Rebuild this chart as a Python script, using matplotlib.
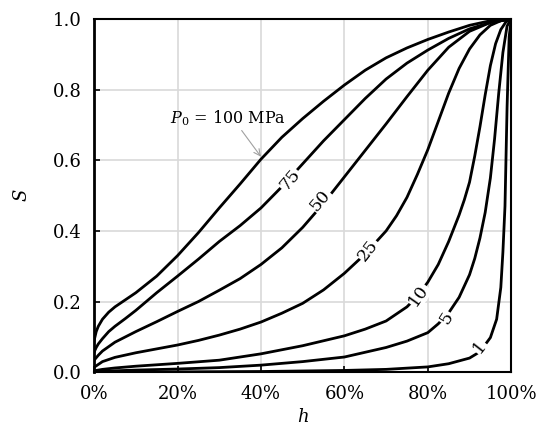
import matplotlib
matplotlib.use("Agg")
import matplotlib.pyplot as plt
import matplotlib.ticker as ticker

plt.rcParams["font.family"] = ["DejaVu Serif"]
plt.rcParams["mathtext.fontset"] = "dejavuserif"

# values (h as fraction, S)
h_100 = [0, 0.005, 0.01, 0.02, 0.035, 0.05, 0.075, 0.1, 0.15, 0.2, 0.25, 0.3, 0.35, 0.4, 0.45,
         0.5, 0.55, 0.6, 0.65, 0.7, 0.75, 0.8, 0.85, 0.9, 0.95, 1.0]
s_100 = [0.09, 0.115, 0.13, 0.15, 0.17, 0.185, 0.205, 0.225, 0.272, 0.33, 0.395, 0.465, 0.533, 0.603, 0.665,
         0.718, 0.767, 0.813, 0.855, 0.89, 0.918, 0.942, 0.963, 0.982, 0.995, 1.0]

h_75 = [0, 0.005, 0.01, 0.02, 0.035, 0.05, 0.075, 0.1, 0.15, 0.2, 0.25, 0.3, 0.35, 0.4, 0.45,
        0.5, 0.55, 0.6, 0.65, 0.7, 0.75, 0.8, 0.85, 0.9, 0.95, 1.0]
s_75 = [0.057, 0.07, 0.08, 0.095, 0.115, 0.13, 0.152, 0.175, 0.225, 0.272, 0.32, 0.37, 0.415, 0.465, 0.525,
        0.59, 0.655, 0.715, 0.775, 0.83, 0.875, 0.912, 0.945, 0.972, 0.99, 1.0]

h_50 = [0, 0.01, 0.02, 0.05, 0.1, 0.15, 0.2, 0.25, 0.3, 0.35, 0.4, 0.45, 0.5, 0.55, 0.6,
        0.65, 0.7, 0.75, 0.8, 0.85, 0.9, 0.95, 1.0]
s_50 = [0.034, 0.048, 0.06, 0.085, 0.115, 0.143, 0.172, 0.2, 0.232, 0.265, 0.305, 0.352, 0.41, 0.478, 0.553,
        0.628, 0.703, 0.78, 0.855, 0.92, 0.965, 0.99, 1.0]

h_25 = [0, 0.01, 0.02, 0.05, 0.1, 0.15, 0.2, 0.25, 0.3, 0.35, 0.4, 0.45, 0.5, 0.55, 0.6, 0.65,
        0.7, 0.725, 0.75, 0.775, 0.8, 0.825, 0.85, 0.875, 0.9, 0.925, 0.95, 0.975, 1.0]
s_25 = [0.014, 0.022, 0.03, 0.042, 0.055, 0.066, 0.077, 0.09, 0.105, 0.122, 0.142, 0.167, 0.195, 0.233, 0.28, 0.335,
        0.40, 0.443, 0.495, 0.56, 0.63, 0.71, 0.79, 0.86, 0.915, 0.955, 0.982, 0.995, 1.0]

h_10 = [0, 0.02, 0.05, 0.1, 0.2, 0.3, 0.4, 0.5, 0.6, 0.65, 0.7, 0.75, 0.775, 0.8, 0.825, 0.85,
        0.875, 0.8875, 0.9, 0.9125, 0.925, 0.9375, 0.95, 0.9625, 0.975, 0.9875, 1.0]
s_10 = [0.004, 0.008, 0.012, 0.017, 0.025, 0.034, 0.052, 0.075, 0.103, 0.122, 0.145, 0.185, 0.215, 0.255, 0.305, 0.37,
        0.445, 0.488, 0.538, 0.612, 0.695, 0.785, 0.868, 0.93, 0.97, 0.992, 1.0]

h_5 = [0, 0.1, 0.2, 0.3, 0.4, 0.5, 0.6, 0.7, 0.75, 0.8, 0.825, 0.85, 0.875, 0.9, 0.9125, 0.925, 0.9375,
       0.95, 0.96, 0.97, 0.98, 0.99, 1.0]
s_5 = [0.002, 0.006, 0.009, 0.013, 0.02, 0.03, 0.043, 0.07, 0.088, 0.112, 0.137, 0.168, 0.212, 0.276, 0.322, 0.38, 0.452,
       0.55, 0.66, 0.79, 0.905, 0.98, 1.0]

h_1 = [0, 0.2, 0.4, 0.6, 0.7, 0.8, 0.85, 0.9, 0.925, 0.95, 0.965, 0.975, 0.98, 0.985, 0.99, 0.995, 1.0]
s_1 = [0.0, 0.001, 0.002, 0.005, 0.008, 0.015, 0.024, 0.04, 0.058, 0.098, 0.15, 0.24, 0.34, 0.47, 0.75, 0.95, 1.0]

curves = [(h_100, s_100), (h_75, s_75), (h_50, s_50), (h_25, s_25),
          (h_10, s_10), (h_5, s_5), (h_1, s_1)]

# inline labels: text, h, S, rotation
label_text = ["75", "50", "25", "10", "5", "1"]
label_h = [0.47, 0.542, 0.657, 0.778, 0.844, 0.924]
label_s = [0.544, 0.487, 0.346, 0.218, 0.154, 0.072]
label_rot = [50, 50, 52, 55, 58, 52]

fig = plt.figure(figsize=(5.41, 4.41), dpi=100)
ax = fig.add_axes([0.174, 0.156, 0.771, 0.801])

for h, s in curves:
    ax.plot(h, s, color="black", lw=2.0, solid_joinstyle="round", zorder=3)

for t, x, y, r in zip(label_text, label_h, label_s, label_rot):
    ax.text(x, y, t, rotation=r, ha="center", va="center", fontsize=12.5, zorder=4,
            bbox=dict(facecolor="white", edgecolor="none", pad=0.8))

ax.annotate(r"$P_{\mathit{0}}$ = 100 MPa", xy=(0.40, 0.61), xytext=(0.182, 0.72),
            fontsize=11.5, va="center", ha="left",
            arrowprops=dict(arrowstyle="->", color="#a0a0a0", lw=0.8,
                            shrinkA=0, shrinkB=0, relpos=(0.6, 0)))

ax.set_xlim(0, 1)
ax.set_ylim(0, 1)
ax.xaxis.set_major_locator(ticker.MultipleLocator(0.2))
ax.yaxis.set_major_locator(ticker.MultipleLocator(0.2))
ax.xaxis.set_major_formatter(ticker.PercentFormatter(xmax=1, decimals=0))
ax.yaxis.set_major_formatter(ticker.FormatStrFormatter("%.1f"))
ax.grid(True, color="#d9d9d9", lw=1.2, zorder=0)
ax.set_axisbelow(True)
ax.tick_params(direction="in", length=4, width=1.2, labelsize=13, pad=9)
for sp in ax.spines.values():
    sp.set_linewidth(1.5)
ax.spines["left"].set_linewidth(2.0)

ax.set_xlabel("$h$", fontsize=13, labelpad=4)
ax.set_ylabel("$S$", fontsize=13, labelpad=16)

fig.savefig("out.png", dpi=100)
